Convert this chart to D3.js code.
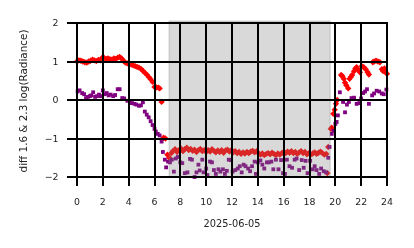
<!DOCTYPE html>
<html><head><meta charset="utf-8">
<script src="https://cdn.jsdelivr.net/npm/d3@7"></script>
<style>html,body{margin:0;padding:0;background:#fff;}#wrap{position:relative;width:414px;height:248px;}#grid,#chart{position:absolute;left:0;top:0;}</style>
</head><body>
<div id="wrap">
<canvas id="grid" width="414" height="248"></canvas>
<svg id="chart" width="414" height="248" font-family="DejaVu Sans, sans-serif"></svg>
</div>
<script>
const redHours = [0.0,0.15,0.3,0.45,0.6,0.75,0.9,1.05,1.2,1.35,1.5,1.65,1.8,1.95,2.1,2.25,2.4,2.55,2.7,2.85,3.0,3.15,3.3,3.45,3.6,3.75,3.9,4.05,4.2,4.35,4.5,4.65,4.8,4.95,5.1,5.25,5.4,5.55,5.7,5.85,6.0,6.15,6.3,6.4,6.55,6.7,6.85,7.0,7.15,7.3,
7.45,7.6,7.75,7.9,8.05,8.2,8.35,8.5,8.65,8.8,8.95,9.1,9.25,9.4,9.55,9.7,9.85,10.0,10.15,10.3,10.45,10.6,10.75,10.9,11.05,11.2,11.35,11.5,11.65,11.8,11.95,12.1,12.25,12.4,12.55,12.7,12.85,13.0,13.15,13.3,13.45,13.6,13.75,13.9,14.05,14.2,14.35,14.5,14.65,14.8,14.95,15.1,15.25,15.4,15.55,15.7,15.85,16.0,16.15,16.3,16.45,16.6,16.75,16.9,17.05,17.2,17.35,17.5,17.65,17.8,17.95,18.1,18.25,18.4,18.55,18.7,18.85,19.0,19.15,19.3,
19.45,19.38,19.65,19.72,19.84,19.95,20.05,20.15,20.45,20.55,20.65,20.75,20.85,21.0,21.1,21.2,21.3,21.45,21.55,21.65,21.8,21.9,22.05,22.2,22.35,22.5,22.6,22.9,23.0,23.15,23.3,23.45,23.6,23.7,23.8,23.9,24.0];
const redDiff = [1.0,1.03,1.02,1.0,0.98,0.97,1.0,1.02,1.05,1.03,1.01,1.04,1.03,1.1,1.09,1.07,1.08,1.06,1.05,1.08,1.07,1.1,1.12,1.08,1.02,0.97,0.95,0.93,0.92,0.9,0.88,0.86,0.84,0.81,0.76,0.71,0.66,0.6,0.54,0.47,0.34,0.33,0.32,0.3,-0.05,-0.98,-1.0,-1.42,-1.5,-1.38,
-1.32,-1.28,-1.35,-1.3,-1.26,-1.33,-1.28,-1.24,-1.3,-1.27,-1.32,-1.29,-1.35,-1.3,-1.27,-1.33,-1.3,-1.35,-1.3,-1.34,-1.28,-1.32,-1.36,-1.31,-1.35,-1.3,-1.37,-1.31,-1.29,-1.34,-1.3,-1.36,-1.33,-1.38,-1.35,-1.4,-1.36,-1.39,-1.35,-1.38,-1.34,-1.32,-1.36,-1.33,-1.38,-1.42,-1.39,-1.43,-1.4,-1.38,-1.41,-1.37,-1.4,-1.43,-1.39,-1.42,-1.38,-1.35,-1.38,-1.34,-1.37,-1.33,-1.38,-1.35,-1.4,-1.36,-1.33,-1.38,-1.35,-1.41,-1.38,-1.42,-1.39,-1.36,-1.4,-1.37,-1.34,-1.38,-1.42,-1.4,
-1.22,-1.9,-0.75,-0.72,-0.36,-0.25,-0.1,0.0,0.65,0.62,0.55,0.45,0.38,0.3,0.55,0.6,0.65,0.75,0.82,0.85,0.78,0.72,0.88,0.85,0.8,0.72,0.66,0.98,1.0,1.02,1.0,0.98,0.8,0.75,0.82,0.72,0.68];

const purpleHours = [0.05,0.2,0.4,0.55,0.7,0.85,1.0,1.1,1.25,1.4,1.55,1.7,1.85,2.0,2.15,2.3,2.45,2.6,2.8,2.95,3.15,3.3,3.5,3.65,3.9,4.1,4.25,4.45,4.6,4.8,4.95,5.1,5.25,5.4,5.55,5.7,5.85,6.0,6.1,6.25,6.4,6.55,6.65,6.8,6.9,7.05,7.2,7.35,7.5,7.65,7.8,8.0,8.15,8.35,8.55,8.75,8.9,9.1,9.25,9.4,9.5,9.7,9.8,10.0,10.1,10.3,10.45,10.6,10.75,10.95,11.1,11.3,11.45,11.6,11.75,11.9,12.05,12.25,12.45,12.6,12.75,12.9,13.05,13.25,13.4,13.55,13.75,13.85,14.0,14.2,14.35,14.5,14.7,14.85,15.05,15.2,15.4,15.6,15.8,15.95,16.1,16.25,16.45,16.65,16.85,17.0,17.2,17.4,17.55,17.7,17.85,18.05,18.25,18.4,18.55,18.75,18.9,19.1,19.3,19.45,19.55,19.72,19.85,20.0,20.1,20.2,20.35,20.6,20.75,20.9,21.05,21.25,21.45,21.65,21.85,22.0,22.15,22.3,22.45,22.6,22.85,23.0,23.2,23.4,23.6,23.75,23.95];
const purpleDiff = [0.22,0.25,0.18,0.15,0.05,0.08,0.1,0.12,0.2,0.08,0.1,0.14,0.1,0.25,0.15,0.18,0.12,0.14,0.1,0.13,0.28,0.28,0.05,0.04,-0.02,-0.05,-0.08,-0.1,-0.12,-0.15,-0.14,-0.06,-0.3,-0.38,-0.45,-0.55,-0.65,-0.75,-0.82,-0.88,-0.92,-1.08,-1.35,-1.55,-1.75,-1.6,-1.62,-1.55,-1.86,-1.52,-1.48,-1.62,-1.64,-1.9,-1.88,-1.53,-1.55,-2.0,-1.88,-1.68,-1.83,-1.55,-1.88,-1.78,-1.95,-1.6,-1.62,-1.82,-1.92,-1.8,-1.86,-1.8,-1.92,-1.84,-1.55,-1.56,-1.86,-1.82,-1.78,-1.72,-1.88,-1.68,-1.72,-1.78,-1.85,-1.72,-1.6,-1.92,-1.62,-1.57,-1.68,-1.78,-1.62,-1.62,-1.6,-1.8,-1.55,-1.8,-1.56,-1.9,-1.92,-1.55,-1.72,-1.76,-1.55,-1.52,-1.82,-1.56,-1.76,-1.58,-1.9,-1.58,-1.8,-1.72,-1.82,-1.92,-1.78,-1.85,-1.88,-1.5,-1.22,-0.88,-0.8,-0.62,-0.57,-0.4,0.2,-0.05,-0.32,-0.12,-0.05,0.05,0.06,-0.1,-0.08,0.04,0.18,0.22,0.28,-0.1,0.12,0.17,0.24,0.22,0.17,0.15,0.27];

const xTicks = [0,2,4,6,8,10,12,14,16,18,20,22,24];
const yTicks = [-2,-1,0,1,2];
const nightSpan = [7.13, 19.6];
const xLabel = "2025-06-05";
const yLabel = "diff 1.6 & 2.3  log(Radiance)";

const x = d3.scaleLinear().domain([0, 24]).range([77, 387]);
const y = d3.scaleLinear().domain([-2, 2]).range([177, 23]);
const fmt = d => d < 0 ? "\u2212" + Math.abs(d) : String(d);

// grid lines on a canvas layer beneath the svg (positions from the d3 scales)
const ctx = document.getElementById("grid").getContext("2d");
ctx.fillStyle = "#000";
xTicks.forEach(d => { const px = Math.round(x(d)); ctx.fillRect(px - 1, y(2) - 1, 2, (y(-2) + 9) - (y(2) - 1)); });
yTicks.forEach(d => { const py = Math.round(y(d)); ctx.fillRect(x(0) - 10, py - 1, (x(24) + 1) - (x(0) - 10), 2); });

const svg = d3.select("#chart");

// points
svg.selectAll("path.red").data(redHours.map((h, i) => [h, redDiff[i]])).join("path").attr("class", "red")
  .attr("d", d3.symbol().type(d3.symbolSquare).size(20))
  .attr("transform", d => `translate(${x(d[0])},${y(d[1])}) rotate(45)`)
  .attr("fill", "#ff0000");
svg.selectAll("rect.pur").data(purpleHours.map((h, i) => [h, purpleDiff[i]])).join("rect").attr("class", "pur")
  .attr("x", d => x(d[0]) - 1.9).attr("y", d => y(d[1]) - 1.9)
  .attr("width", 3.8).attr("height", 3.8)
  .attr("fill", "#800080");

// night shading
svg.append("rect")
  .attr("x", x(nightSpan[0])).attr("y", 21)
  .attr("width", x(nightSpan[1]) - x(nightSpan[0])).attr("height", 177 - 21)
  .attr("fill", "#808080").attr("fill-opacity", 0.3)
  .attr("stroke", "#808080").attr("stroke-opacity", 0.3).attr("stroke-width", 1.2);

// svg grid lines as well (same positions)
const grid = svg.append("g").attr("shape-rendering", "crispEdges");
grid.selectAll("line.gv").data(xTicks).join("line").attr("class", "gv")
  .attr("x1", d => Math.round(x(d))).attr("x2", d => Math.round(x(d)))
  .attr("y1", y(2) - 1).attr("y2", y(-2) + 9)
  .attr("stroke", "#000").attr("stroke-width", 2);
grid.selectAll("line.gh").data(yTicks).join("line").attr("class", "gh")
  .attr("x1", x(0) - 10).attr("x2", x(24) + 1)
  .attr("y1", d => Math.round(y(d))).attr("y2", d => Math.round(y(d)))
  .attr("stroke", "#000").attr("stroke-width", 2);

// tick labels
svg.selectAll("text.xt").data(xTicks).join("text").attr("class", "xt")
  .attr("x", d => x(d)).attr("y", 204.5).attr("text-anchor", "middle")
  .attr("font-size", "9.4px").attr("fill", "#222").text(fmt);
svg.selectAll("text.yt").data(yTicks).join("text").attr("class", "yt")
  .attr("x", 58.5).attr("y", d => y(d)).attr("dy", "0.35em").attr("text-anchor", "end")
  .attr("font-size", "9.4px").attr("fill", "#222").text(fmt);

// axis labels
svg.append("text").attr("x", 232).attr("y", 227).attr("text-anchor", "middle")
  .attr("font-size", "9.8px").attr("fill", "#222").text(xLabel);
svg.append("text").attr("transform", "translate(27,101) rotate(-90)").attr("text-anchor", "middle")
  .attr("font-size", "10.4px").attr("fill", "#222").text(yLabel);
</script>
</body></html>
